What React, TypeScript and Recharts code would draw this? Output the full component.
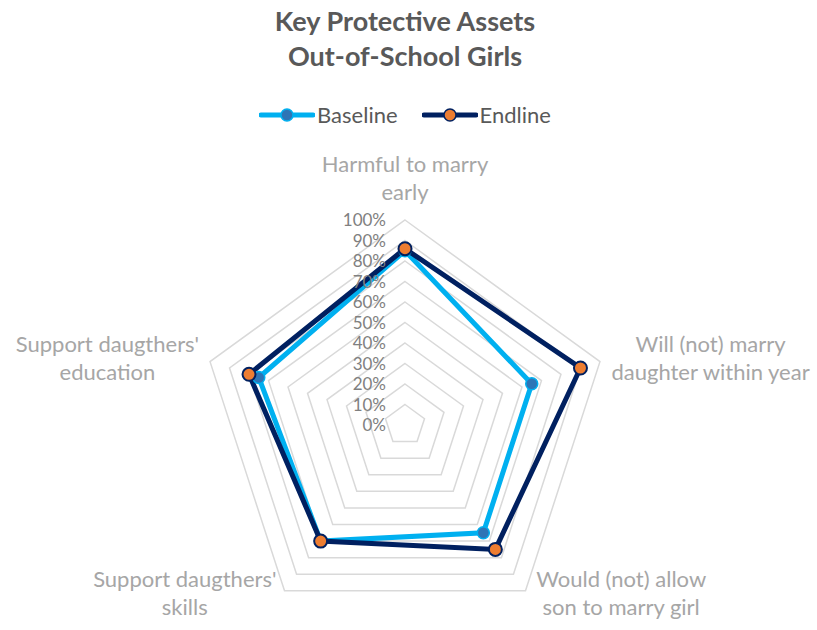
import { RadarChart, Radar, PolarGrid, PolarAngleAxis, PolarRadiusAxis, Legend } from 'recharts';

const categories = [
  'Harmful to marry\nearly',
  'Will (not) marry\ndaughter within year',
  'Would (not) allow\nson to marry girl',
  "Support daugthers'\nskills",
  "Support daugthers'\neducation",
];
const baseline = [0.85, 0.65, 0.65, 0.7, 0.75];
const endline = [0.86, 0.9, 0.75, 0.7, 0.8];
const radiusTicks = [0, 0.1, 0.2, 0.3, 0.4, 0.5, 0.6, 0.7, 0.8, 0.9, 1];

const data = categories.map((c, i) => ({ cat: c, Baseline: baseline[i], Endline: endline[i] }));

const FONT = 'Lato, "Open Sans", sans-serif';

// per-index label placement relative to the axis tick point
const labelOffsets = [
  { dx: 0, dy: -46 },
  { dx: 103, dy: -13 },
  { dx: 91, dy: -16 },
  { dx: -95, dy: -16 },
  { dx: -95, dy: -13 },
];

function AngleTick(props: any) {
  const { x, y, payload, index } = props;
  const lines = String(payload.value).split('\n');
  const off = labelOffsets[index] || { dx: 0, dy: 0 };
  return (
    <text x={x + off.dx} y={y + off.dy} textAnchor="middle" fill="#a6a6a6" fontSize={22} fontFamily={FONT}>
      {lines.map((l, i) => (
        <tspan key={i} x={x + off.dx} dy={i === 0 ? 0 : 28} dominantBaseline="middle">
          {l}
        </tspan>
      ))}
    </text>
  );
}

function RadiusTick(props: any) {
  const { x, y, payload } = props;
  return (
    <text x={x - 19} y={y + 2} textAnchor="end" dominantBaseline="middle" fill="#808080" fontSize={17} fontFamily={FONT}>
      {Math.round(payload.value * 100) + '%'}
    </text>
  );
}

function LegendContent() {
  const items = [
    { name: 'Baseline', line: '#00b0f0', dot: '#2e75b6' },
    { name: 'Endline', line: '#002060', dot: '#ed7d31' },
  ];
  return (
    <div style={{ display: 'flex', justifyContent: 'center', gap: 24, fontFamily: FONT, fontSize: 22, color: '#595959' }}>
      {items.map((it) => (
        <div key={it.name} style={{ display: 'flex', alignItems: 'center' }}>
          <svg width={56} height={20}>
            <line x1={2} y1={10} x2={54} y2={10} stroke={it.line} strokeWidth={5} strokeLinecap="round" />
            <circle cx={28} cy={10} r={6} fill={it.dot} stroke={it.line} strokeWidth={1.5} />
          </svg>
          <span style={{ marginLeft: 2 }}>{it.name}</span>
        </div>
      ))}
    </div>
  );
}

export default function App() {
  return (
    <div style={{ position: 'absolute', left: 0, top: 0, width: 817, height: 630, background: '#fff' }}>
      <div
        style={{
          position: 'absolute',
          top: 3,
          left: 0,
          width: 810,
          textAlign: 'center',
          fontFamily: FONT,
          fontWeight: 700,
          fontSize: 27,
          lineHeight: '35px',
          color: '#595959',
        }}
      >
        Key Protective Assets
        <br />
        Out-of-School Girls
      </div>
      <RadarChart width={817} height={630} data={data} cx={405} cy={425} outerRadius={205}>
        <PolarGrid gridType="polygon" radialLines={false} stroke="#d9d9d9" strokeWidth={1.5} />
        <PolarAngleAxis dataKey="cat" tick={<AngleTick />} tickLine={false} axisLine={false} />
        <PolarRadiusAxis
          angle={90}
          domain={[0, 1]}
          ticks={radiusTicks}
          tickCount={11}
          tick={<RadiusTick />}
          axisLine={false}
          tickLine={false}
        />
        <Legend
          verticalAlign="top"
          content={<LegendContent />}
          wrapperStyle={{ top: 101, left: 0, width: 810 }}
        />
        <Radar
          name="Baseline"
          dataKey="Baseline"
          stroke="#00b0f0"
          strokeWidth={5}
          fill="none"
          fillOpacity={0}
          dot={{ r: 6, fill: '#2e75b6', stroke: '#00b0f0', strokeWidth: 1.5, fillOpacity: 1 }}
          isAnimationActive={false}
        />
        <Radar
          name="Endline"
          dataKey="Endline"
          stroke="#002060"
          strokeWidth={5}
          fill="none"
          fillOpacity={0}
          dot={{ r: 6.5, fill: '#ed7d31', stroke: '#002060', strokeWidth: 2, fillOpacity: 1 }}
          isAnimationActive={false}
        />
      </RadarChart>
    </div>
  );
}
